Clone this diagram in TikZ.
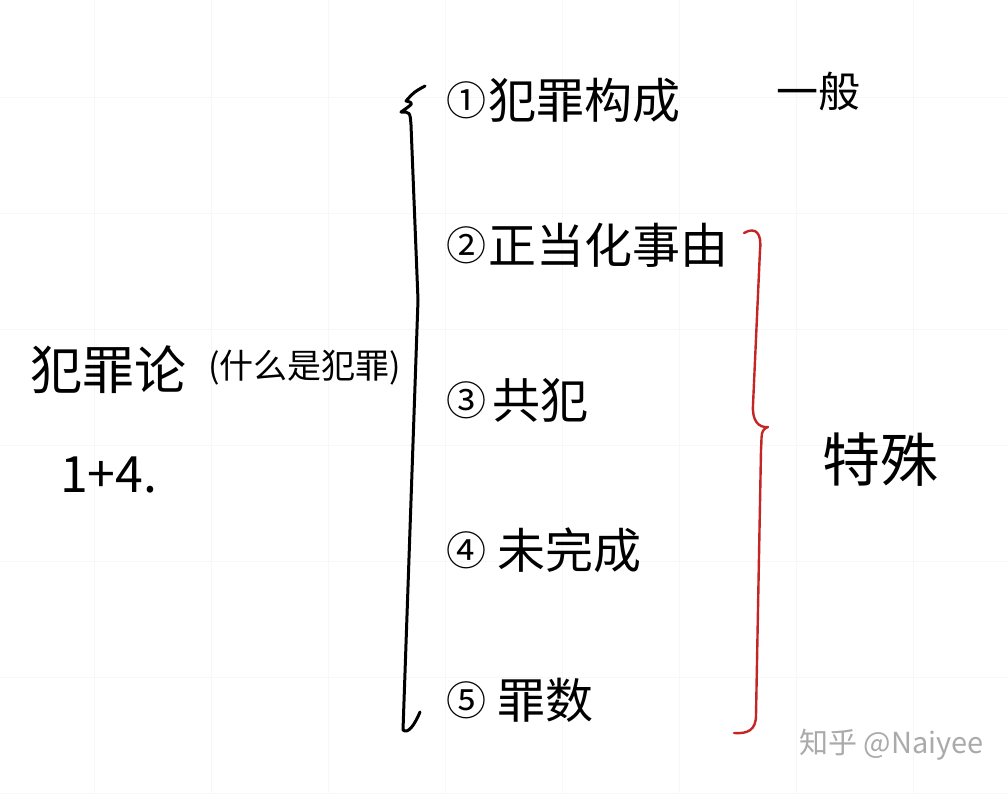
\documentclass[tikz,border=0pt]{standalone}
\usepackage{fontspec}
\setmainfont{Noto Sans CJK SC}
\usepackage{tikz}
\definecolor{InkRed}{RGB}{196,38,38}
\definecolor{PaperGrid}{RGB}{247,247,247}
\definecolor{MarkGray}{RGB}{170,170,170}

\begin{document}
\begin{tikzpicture}[x=1pt,y=-1pt,
  hand/.style={line width=3pt,line cap=round,line join=round},
  entry/.style={anchor=west,inner sep=0pt,font=\fontsize{48}{50}\selectfont},
  circnum/.style={inner sep=0pt,font=\fontsize{40}{42}\selectfont}]
  \useasboundingbox[fill=white] (0,0) rectangle (1008,793);
  % faint paper grid
  \foreach \gx in {94,211,...,1008} \draw[PaperGrid] (\gx,0)--(\gx,793);
  \foreach \gy in {97,213,...,793} \draw[PaperGrid] (0,\gy)--(1008,\gy);
  % left side
  \node[anchor=west,inner sep=0pt,font=\fontsize{52}{54}\selectfont] (topic) at (30,370) {犯罪论};
  \node[anchor=west,inner sep=0pt,font=\fontsize{34}{36}\selectfont] (what) at (208,368) {(什么是犯罪)};
  \node[anchor=west,inner sep=0pt,font=\fontsize{50}{52}\selectfont] (count) at (60,475) {1+4.};
  % black bracket
  \draw[hand] (425,86) .. controls (414,92) .. (406,101) .. controls (414,103) .. (401,112)
    .. controls (410,112) .. (411,125) -- (418,300) -- (403,730)
    .. controls (408,734) and (414,726) .. (420,712);
  % items
  \node[circnum] (n1) at (466,100) {①};
  \node[entry] (i1) at (488,100) {犯罪构成};
  \node[circnum] (n2) at (466,245) {②};
  \node[entry] (i2) at (488,245) {正当化事由};
  \node[circnum] (n3) at (466,400) {③};
  \node[entry] (i3) at (492,400) {共犯};
  \node[circnum] (n4) at (466,550) {④};
  \node[entry] (i4) at (497,550) {未完成};
  \node[circnum] (n5) at (466,700) {⑤};
  \node[entry] (i5) at (497,700) {罪数};
  \node[inner sep=0pt,font=\fontsize{42}{44}\selectfont] (general) at (818,92) {一般};
  % red brace
  \draw[hand,InkRed,line width=2.4pt] (744,233) .. controls (756,226) and (762,234) .. (760,250)
    -- (753,405) .. controls (752,420) and (758,428) .. (768,427)
    .. controls (760,430) and (762,436) .. (761,450)
    -- (756,715) .. controls (756,730) and (748,734) .. (734,733);
  \node[inner sep=0pt,font=\fontsize{58}{60}\selectfont] (special) at (880,460) {特殊};
  \node[anchor=east,inner sep=0pt,text=MarkGray,font=\fontsize{29}{31}\selectfont] (mark) at (984,745) {知乎 @Naiyee};
\end{tikzpicture}
\end{document}
